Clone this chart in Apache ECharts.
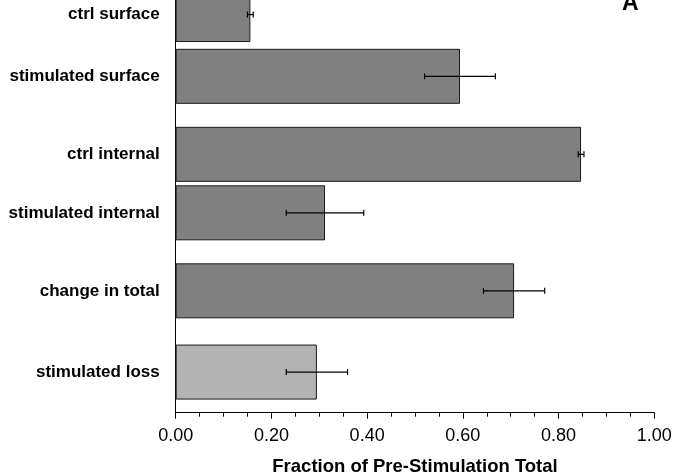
<!DOCTYPE html>
<html>
<head>
<meta charset="utf-8">
<script src="https://cdn.jsdelivr.net/npm/echarts@6/dist/echarts.min.js"></script>
<style>
  html, body { margin: 0; padding: 0; background: #fff; }
  #chart { width: 674px; height: 474px; }
</style>
</head>
<body>
<div id="chart"></div>
<script>
// ---- data ----
const categories = ['ctrl surface', 'stimulated surface', 'ctrl internal', 'stimulated internal', 'change in total', 'stimulated loss'];
const values = [0.156, 0.594, 0.847, 0.312, 0.707, 0.295];
const errors = [0.006, 0.074, 0.006, 0.081, 0.064, 0.064];
const xTickLabels = ['0.00', '0.20', '0.40', '0.60', '0.80', '1.00'];
const xTitle = 'Fraction of Pre-Stimulation Total';
const panelLabel = 'A';

// ---- layout (slot positions on a fine category grid, kept apart from data) ----
const slotOf = [7, 26, 50, 68, 92, 117];
const totalSlots = 130;
const barColors = ['#808080', '#808080', '#808080', '#808080', '#808080', '#b3b3b3'];

const axisCats = [];
for (let i = 0; i < totalSlots; i++) axisCats.push('_gap' + i);
categories.forEach((c, k) => { axisCats[slotOf[k]] = c; });

const barData = axisCats.map(() => '-');
categories.forEach((c, k) => {
  barData[slotOf[k]] = { value: values[k], itemStyle: { color: barColors[k] } };
});
const errData = categories.map((c, k) => [values[k], errors[k], slotOf[k]]);

const FONT = '"Liberation Sans", Arial, Helvetica, sans-serif';

const chart = echarts.init(document.getElementById('chart'), null, { renderer: 'canvas' });
chart.setOption({
  animation: false,
  backgroundColor: '#fff',
  grid: { left: 175.7, right: 19.7, top: -9.8, bottom: 61.3, containLabel: false, outerBoundsMode: 'none' },
  xAxis: {
    type: 'value', min: 0, max: 1, interval: 0.2,
    axisLine: { show: true, lineStyle: { color: '#000', width: 1 } },
    axisTick: { show: true, length: 6, lineStyle: { color: '#000', width: 1 } },
    minorTick: { show: true, splitNumber: 4, length: 4, lineStyle: { color: '#000', width: 1 } },
    splitLine: { show: false },
    minorSplitLine: { show: false },
    axisLabel: {
      color: '#000', fontSize: 18, fontFamily: FONT, margin: 14,
      formatter: (v) => xTickLabels[Math.round(v / 0.2)] ?? v.toFixed(2)
    },
    name: xTitle, nameLocation: 'middle', nameGap: 45,
    nameTextStyle: { color: '#000', fontSize: 18.5, fontWeight: 'bold', fontFamily: FONT }
  },
  yAxis: {
    type: 'category', data: axisCats, inverse: true,
    axisLine: { show: true, lineStyle: { color: '#000', width: 1 } },
    axisTick: { show: false },
    splitLine: { show: false },
    axisLabel: {
      interval: 0, color: '#000', fontSize: 17, fontWeight: 'bold', fontFamily: FONT, margin: 16,
      formatter: (v) => (v.indexOf('_gap') === 0 ? '' : v)
    }
  },
  series: [
    {
      type: 'bar', data: barData, barWidth: 55, clip: false,
      itemStyle: { borderColor: '#1a1a1a', borderWidth: 1 }
    },
    {
      type: 'custom', data: errData, encode: { x: 0, y: 2 }, clip: false, z: 5,
      renderItem: function (params, api) {
        const v = api.value(0), e = api.value(1), idx = api.value(2);
        const lo = api.coord([v - e, idx]);
        const hi = api.coord([v + e, idx]);
        const h = 3;
        const st = { stroke: '#000', lineWidth: 1.2 };
        return {
          type: 'group',
          children: [
            { type: 'line', shape: { x1: lo[0], y1: lo[1], x2: hi[0], y2: hi[1] }, style: st },
            { type: 'line', shape: { x1: lo[0], y1: lo[1] - h, x2: lo[0], y2: lo[1] + h }, style: st },
            { type: 'line', shape: { x1: hi[0], y1: hi[1] - h, x2: hi[0], y2: hi[1] + h }, style: st }
          ]
        };
      }
    }
  ],
  graphic: [
    {
      type: 'text', x: 622, y: 15,
      style: { text: panelLabel, font: 'bold 23px ' + FONT, fill: '#000', verticalAlign: 'bottom' }
    }
  ]
});
</script>
</body>
</html>
